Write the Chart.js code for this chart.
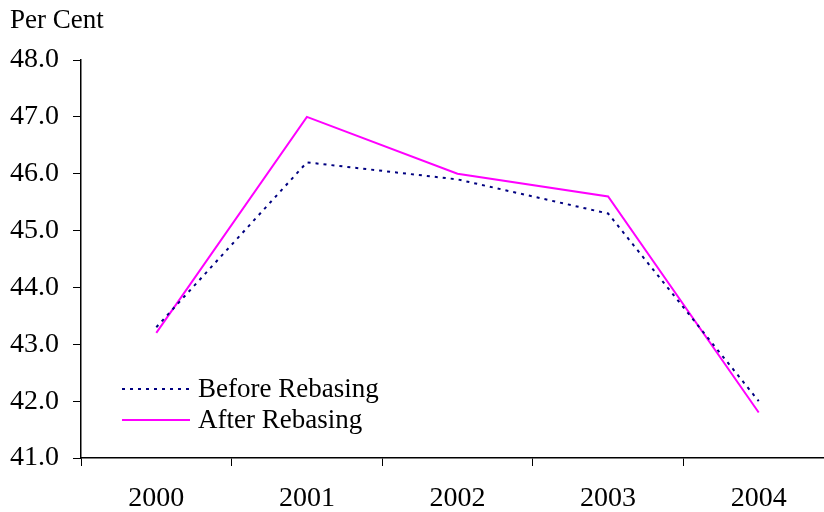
<!DOCTYPE html>
<html>
<head>
<meta charset="utf-8">
<script src="https://cdn.jsdelivr.net/npm/chart.js@4/dist/chart.umd.min.js"></script>
<style>
  html, body { margin: 0; padding: 0; background: #fff; overflow: hidden; }
  #wrap { position: relative; width: 834px; height: 512px; }
</style>
</head>
<body>
<div id="wrap"><canvas id="c"></canvas></div>
<script>
const years = ['2000', '2001', '2002', '2003', '2004'];
const beforeRebasing = [43.3, 46.2, 45.9, 45.3, 42.0];
const afterRebasing = [43.2, 47.0, 46.0, 45.6, 41.8];
const yTicks = [41, 42, 43, 44, 45, 46, 47, 48];

const FONT = "'Liberation Serif', 'Times New Roman', serif";

// Unit caption and in-plot legend
const annotations = {
  id: 'annotations',
  afterDraw(chart) {
    const ctx = chart.ctx;
    ctx.save();
    ctx.fillStyle = '#000';
    ctx.font = '27px ' + FONT;
    ctx.textBaseline = 'middle';
    ctx.textAlign = 'left';
    ctx.fillText('Per Cent', 10, 21);

    const x0 = 122, x1 = 190, tx = 198;
    const rows = [389, 420];
    chart.data.datasets.forEach((ds, i) => {
      const y = rows[i];
      ctx.beginPath();
      ctx.strokeStyle = ds.borderColor;
      ctx.lineWidth = ds.borderWidth;
      ctx.setLineDash(ds.borderDash || []);
      ctx.moveTo(x0, y);
      ctx.lineTo(x1, y);
      ctx.stroke();
      ctx.setLineDash([]);
      ctx.font = '27px ' + FONT;
      ctx.fillStyle = '#000';
      ctx.fillText(ds.label, tx, y + 1);
    });
    ctx.restore();
  }
};

new Chart(document.getElementById('c'), {
  type: 'line',
  data: {
    labels: years,
    datasets: [
      {
        label: 'Before Rebasing',
        data: beforeRebasing,
        borderColor: '#000080',
        borderWidth: 2,
        borderDash: [3, 5],
        pointRadius: 0,
        tension: 0,
        fill: false
      },
      {
        label: 'After Rebasing',
        data: afterRebasing,
        borderColor: '#ff00ff',
        borderWidth: 2,
        pointRadius: 0,
        tension: 0,
        fill: false
      }
    ]
  },
  options: {
    responsive: true,
    maintainAspectRatio: false,
    animation: false,
    layout: { padding: { left: 10, top: 60, right: 0, bottom: 0 } },
    plugins: {
      legend: { display: false },
      tooltip: { enabled: false }
    },
    scales: {
      x: {
        offset: true,
        grid: {
          offset: true,
          drawOnChartArea: false,
          drawTicks: true,
          tickLength: 8,
          color: '#000',
          lineWidth: 1
        },
        border: { display: true, color: '#000', width: 1.5 },
        ticks: {
          color: '#000',
          font: { family: FONT, size: 28 },
          padding: 16,
          maxRotation: 0
        },
        afterFit(scale) { scale.height = 54; }
      },
      y: {
        min: 41,
        max: 48,
        afterBuildTicks(scale) {
          scale.ticks = yTicks.map(v => ({ value: v }));
        },
        grid: {
          drawOnChartArea: false,
          drawTicks: true,
          tickLength: 8,
          color: '#000',
          lineWidth: 1
        },
        border: { display: true, color: '#000', width: 1.5 },
        ticks: {
          color: '#000',
          font: { family: FONT, size: 28 },
          padding: 14,
          callback: v => Number(v).toFixed(1)
        },
        afterFit(scale) { scale.width = 71; }
      }
    }
  },
  plugins: [annotations]
});
</script>
</body>
</html>
